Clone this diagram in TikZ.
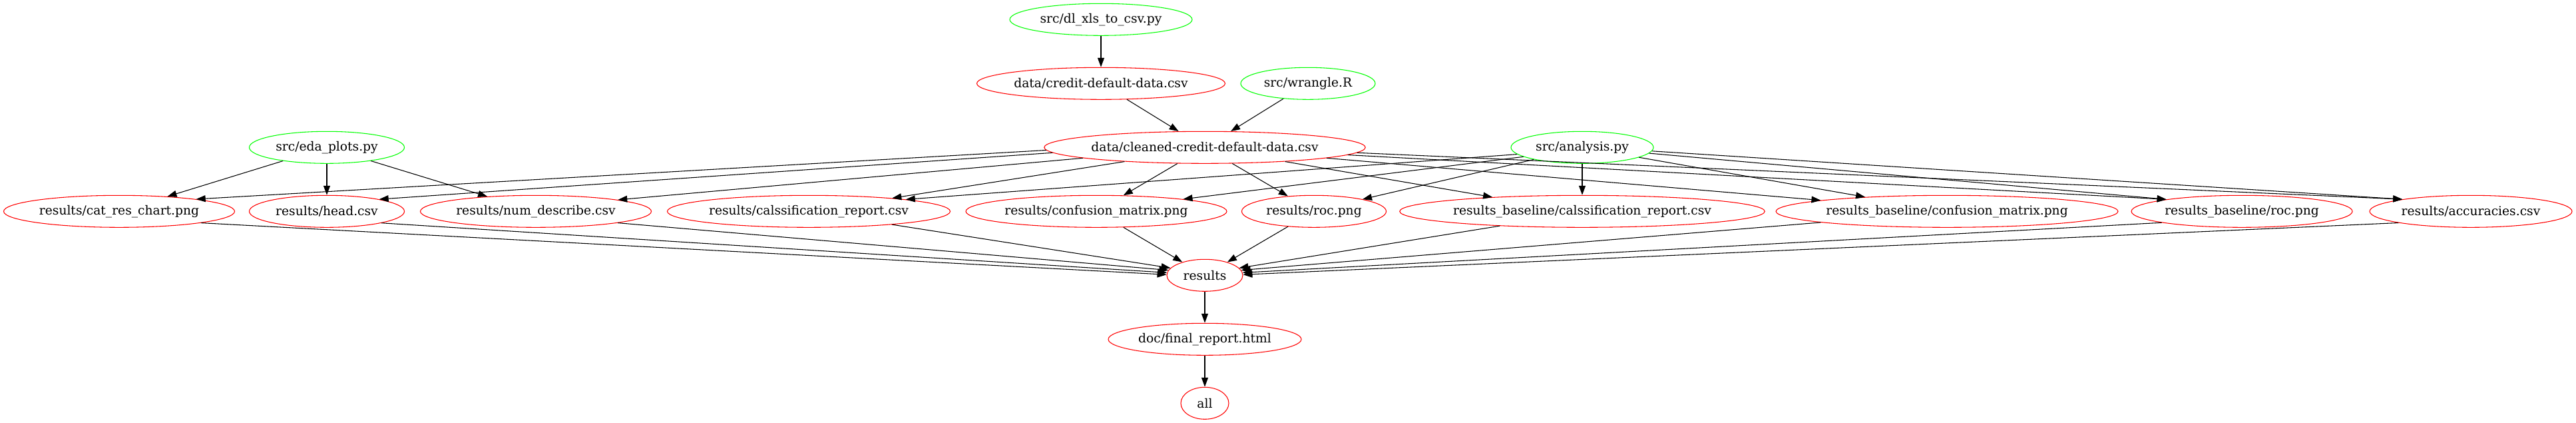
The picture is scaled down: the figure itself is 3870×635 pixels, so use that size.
\documentclass[tikz,border=0pt]{standalone}
\usepackage{fontspec}
\setmainfont{DejaVu Serif}
\usetikzlibrary{shapes.geometric,arrows.meta}
\definecolor{gvred}{RGB}{255,0,0}
\definecolor{gvgreen}{RGB}{0,255,0}
\begin{document}
\begin{tikzpicture}[x=0.75pt,y=-0.75pt,
  basenode/.style={ellipse, line width=0.8pt, minimum height=36pt, inner sep=0pt, font=\fontsize{14}{16}\selectfont},
  rnode/.style={basenode, draw=gvred, minimum width=#1},
  gnode/.style={basenode, draw=gvgreen, minimum width=#1},
  dep/.style={line width=0.8pt, draw=black, -{Triangle[length=10.5pt,width=7.5pt]}}]
\fill[white] (0,0) rectangle (3870,635);
\useasboundingbox (0,0) rectangle (3870,635);
% row 1
\node[gnode=205.5pt] (dlxls) at (1654,29.3) {src/dl\_xls\_to\_csv.py};
% row 2
\node[rnode=279.75pt] (credit) at (1654,125.3) {data/credit-default-data.csv};
\node[gnode=151.5pt] (wrangle) at (1965,125.3) {src/wrangle.R};
% row 3
\node[gnode=174.75pt] (eda) at (491,221.3) {src/eda\_plots.py};
\node[rnode=357.75pt] (cleaned) at (1810,221.3) {data/cleaned-credit-default-data.csv};
\node[gnode=160.5pt] (analysis) at (2377,221.3) {src/analysis.py};
% row 4
\node[rnode=260.25pt] (catres) at (179,317.3) {results/cat\_res\_chart.png};
\node[rnode=174.75pt] (head) at (491,317.3) {results/head.csv};
\node[rnode=260.25pt] (num) at (805,317.3) {results/num\_describe.csv};
\node[rnode=318.75pt] (class) at (1215,317.3) {results/calssification\_report.csv};
\node[rnode=294pt] (conf) at (1647,317.3) {results/confusion\_matrix.png};
\node[rnode=162.75pt] (roc) at (1974,317.3) {results/roc.png};
\node[rnode=405pt] (bclass) at (2377,317.3) {results\_baseline/calssification\_report.csv};
\node[rnode=379.5pt] (bconf) at (2925,317.3) {results\_baseline/confusion\_matrix.png};
\node[rnode=249pt] (broc) at (3368,317.3) {results\_baseline/roc.png};
\node[rnode=228pt] (acc) at (3712,317.3) {results/accuracies.csv};
% rows 5-7
\node[rnode=85.5pt] (results) at (1810,413.3) {results};
\node[rnode=217.5pt] (doc) at (1810,509.3) {doc/final\_report.html};
\node[rnode=54pt] (all) at (1810,605.3) {all};
% edges
\draw[dep] (dlxls) -- (credit);
\draw[dep] (credit) -- (cleaned);
\draw[dep] (wrangle) -- (cleaned);
\draw[dep] (eda) -- (catres);
\draw[dep] (eda) -- (head);
\draw[dep] (eda) -- (num);
\draw[dep] (cleaned.181) -- (catres.9);
\draw[dep] (cleaned.182) -- (head.13);
\draw[dep] (cleaned.185) -- (num.8);
\draw[dep] (cleaned.190) -- (class.9);
\draw[dep] (cleaned) -- (conf);
\draw[dep] (cleaned) -- (roc);
\draw[dep] (cleaned.350) -- (bclass.171);
\draw[dep] (cleaned.355) -- (bconf.175);
\draw[dep] (cleaned.357) -- (broc.171);
\draw[dep] (cleaned.358) -- (acc.170);
\draw[dep] (analysis.186) -- (class.7);
\draw[dep] (analysis.189) -- (conf.8);
\draw[dep] (analysis.194) -- (roc.14);
\draw[dep] (analysis) -- (bclass);
\draw[dep] (analysis) -- (bconf);
\draw[dep] (analysis.355) -- (broc.171);
\draw[dep] (analysis.357) -- (acc.170);
\draw[dep] (catres.352) -- (results.179);
\draw[dep] (head.348) -- (results.176);
\draw[dep] (num.352) -- (results.172);
\draw[dep] (class.351) -- (results.168);
\draw[dep] (conf) -- (results);
\draw[dep] (roc) -- (results);
\draw[dep] (bclass.190) -- (results.12);
\draw[dep] (bconf.185) -- (results.8);
\draw[dep] (broc.188) -- (results.4);
\draw[dep] (acc.189) -- (results.1);
\draw[dep] (results) -- (doc);
\draw[dep] (doc) -- (all);
\end{tikzpicture}
\end{document}
